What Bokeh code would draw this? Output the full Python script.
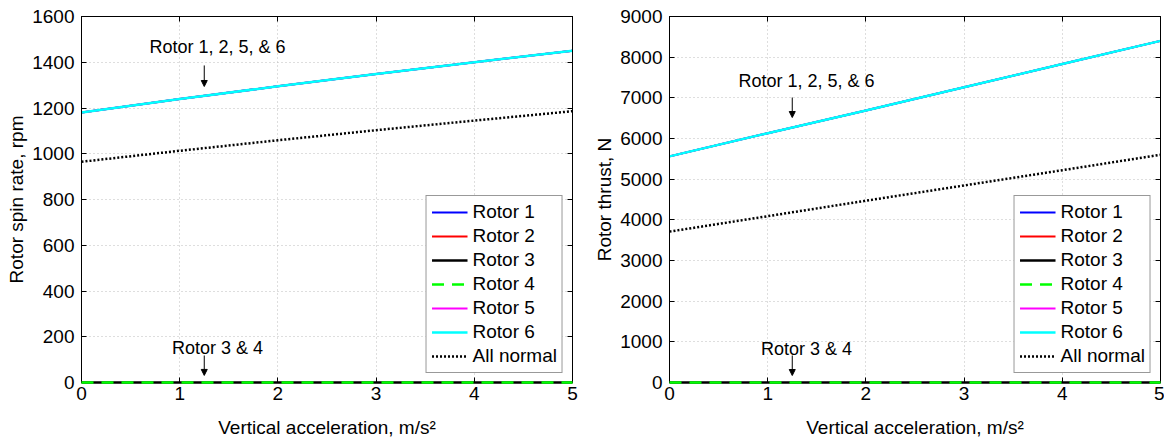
from bokeh.plotting import figure
from bokeh.layouts import row
from bokeh.models import (Label, Arrow, NormalHead, Legend, LegendItem, LinearAxis,
                          FixedTicker, Range1d)
from bokeh.embed import file_html
from bokeh.resources import INLINE

# ---------------- data ----------------
accel = [0, 1, 2, 3, 4, 5]                                   # m/s^2
spin_failed_case = [1180, 1239, 1295, 1349, 1400, 1450]       # rotors 1,2,5,6 (rpm)
spin_off = [0, 0, 0, 0, 0, 0]                                 # rotors 3,4 (rpm)
spin_all_normal = [965, 1013, 1059, 1103, 1145, 1186]         # rpm
thrust_failed_case = [5560, 6130, 6690, 7260, 7830, 8400]     # N
thrust_off = [0, 0, 0, 0, 0, 0]                               # N
thrust_all_normal = [3710, 4090, 4470, 4845, 5220, 5600]      # N

rotor_names = ["Rotor 1", "Rotor 2", "Rotor 3", "Rotor 4", "Rotor 5", "Rotor 6", "All normal"]
x_ticks = [0, 1, 2, 3, 4, 5]
spin_ticks = [0, 200, 400, 600, 800, 1000, 1200, 1400, 1600]
thrust_ticks = [0, 1000, 2000, 3000, 4000, 5000, 6000, 7000, 8000, 9000]

FONT = "Liberation Sans"
FS = "19px"
styles = {
    "Rotor 1": dict(color="#0000ff", dash="solid", width=2),
    "Rotor 2": dict(color="#ff0000", dash="solid", width=2),
    "Rotor 3": dict(color="#000000", dash="solid", width=2.5),
    "Rotor 4": dict(color="#00ff00", dash="12 8", width=2.5),
    "Rotor 5": dict(color="#ff00ff", dash="solid", width=2),
    "Rotor 6": dict(color="#00ffff", dash="solid", width=2.5),
    "All normal": dict(color="#000000", dash="2 2", width=2.5),
}


def make_panel(ylabel, failed, off, normal, yticks, ann, width, bl, br):
    series = {"Rotor 1": failed, "Rotor 2": failed, "Rotor 3": off, "Rotor 4": off,
              "Rotor 5": failed, "Rotor 6": failed, "All normal": normal}
    p = figure(width=width, height=445, output_backend="svg", toolbar_location=None,
               x_range=Range1d(0, 5), y_range=Range1d(yticks[0], yticks[-1]),
               min_border_left=bl, min_border_right=br, min_border_top=16, min_border_bottom=63)
    p.outline_line_color = "black"
    p.outline_line_width = 1
    p.background_fill_color = "white"
    p.border_fill_color = "white"

    for ax in (p.xaxis[0], p.yaxis[0]):
        ax.major_tick_in = 5
        ax.major_tick_out = 0
        ax.minor_tick_in = 0
        ax.minor_tick_out = 0
        ax.axis_line_color = "black"
        ax.major_label_text_font = FONT
        ax.major_label_text_font_size = FS
        ax.major_label_text_color = "black"
        ax.axis_label_text_font = FONT
        ax.axis_label_text_font_size = FS
        ax.axis_label_text_font_style = "normal"
        ax.axis_label_text_color = "black"
    p.xaxis.ticker = FixedTicker(ticks=x_ticks)
    p.yaxis.ticker = FixedTicker(ticks=yticks)
    p.xaxis.axis_label = "Vertical acceleration, m/s\u00b2"
    p.yaxis.axis_label = ylabel
    p.xaxis.major_label_standoff = 4
    p.xaxis.axis_label_standoff = 14
    p.yaxis.major_label_standoff = 7
    p.yaxis.axis_label_standoff = 2

    # box ticks on top / right
    for loc in ("above", "right"):
        a = LinearAxis(ticker=FixedTicker(ticks=x_ticks if loc == "above" else yticks),
                       major_tick_in=5, major_tick_out=0, minor_tick_in=0, minor_tick_out=0,
                       major_label_text_font_size="0px", major_label_standoff=0,
                       axis_line_color="black")
        p.add_layout(a, loc)

    for g in (p.xgrid[0], p.ygrid[0]):
        g.grid_line_color = "#bdbdbd"
        g.grid_line_dash = "1 3"
        g.grid_line_width = 1
        g.ticker = FixedTicker(ticks=x_ticks if g is p.xgrid[0] else yticks)

    items = []
    for name in rotor_names:
        s = styles[name]
        lvl = "overlay" if name in ("Rotor 3", "Rotor 4") else "glyph"
        r = p.line(accel, series[name], line_color=s["color"], line_dash=s["dash"],
                   line_width=s["width"], level=lvl)
        items.append(LegendItem(label=name, renderers=[r]))

    leg = Legend(items=items, location="bottom_right", label_text_font=FONT,
                 label_text_font_size=FS, label_text_color="black",
                 glyph_width=36, glyph_height=20,
                 label_height=20, spacing=2, padding=5, margin=9, label_standoff=5,
                 border_line_color="#333333", border_line_width=1,
                 background_fill_color="white", background_fill_alpha=1)
    p.add_layout(leg)

    for (tx, ty, text, ax_x, y0, y1) in ann:
        p.add_layout(Label(x=tx, y=ty, text=text, text_align="center", text_baseline="middle",
                           text_font=FONT, text_font_size="18px", text_color="black"))
        p.add_layout(Arrow(end=NormalHead(size=6, fill_color="black", line_color="black"),
                           x_start=ax_x, y_start=y0, x_end=ax_x, y_end=y1,
                           line_color="black", line_width=1))
    return p


p1 = make_panel("Rotor spin rate, rpm", spin_failed_case, spin_off, spin_all_normal, spin_ticks,
                [(1.385, 1465, "Rotor 1, 2, 5, & 6", 1.25, 1386, 1294),
                 (1.385, 149, "Rotor 3 & 4", 1.25, 118, 31)],
                width=588, bl=81, br=16)
p2 = make_panel("Rotor thrust, N", thrust_failed_case, thrust_off, thrust_all_normal, thrust_ticks,
                [(1.395, 7426, "Rotor 1, 2, 5, & 6", 1.25, 7008, 6516),
                 (1.395, 836, "Rotor 3 & 4", 1.25, 664, 172)],
                width=576, bl=81, br=4)

layout = row(p1, p2)
open("out.html", "w").write(file_html(layout, INLINE))
